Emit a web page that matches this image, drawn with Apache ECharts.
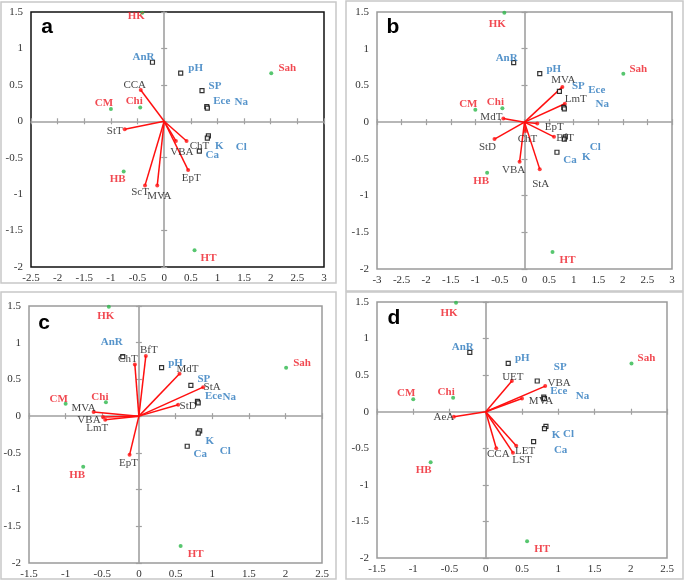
<!DOCTYPE html>
<html>
<head>
<meta charset="utf-8">
<script src="https://cdn.jsdelivr.net/npm/echarts@6/dist/echarts.min.js"></script>
<style>html,body{margin:0;padding:0;background:#fff;}#c{width:685px;height:581px;}</style>
</head>
<body>
<div id="c"></div>
<script>
// ---- data ----
const sites = ['HK','CM','Chi','HB','HT','Sah'];
const siteX = [-0.41,-1.0,-0.45,-0.76,0.57,2.01];
const siteY = [1.49,0.17,0.19,-0.69,-1.77,0.66];

const soils = ['AnR','pH','SP','Ece','Na','K','Cl','Ca'];
const soilX = [-0.22,0.31,0.71,0.80,0.81,0.83,0.81,0.66];
const soilY = [0.81,0.66,0.42,0.20,0.18,-0.20,-0.23,-0.41];

const vecA = ['CCA','StT','VBA','ChT','EpT','MVA','ScT'];
const vecAX = [-0.44,-0.74,0.22,0.42,0.45,-0.13,-0.36];
const vecAY = [0.43,-0.11,-0.27,-0.27,-0.67,-0.88,-0.88];

const vecB = ['MVA','LmT','MdT','EpT','BfT','ChT','StD','VBA','StA'];
const vecBX = [0.77,0.82,-0.43,0.26,0.60,0.02,-0.61,-0.10,0.31];
const vecBY = [0.48,0.25,0.05,-0.02,-0.20,-0.12,-0.23,-0.54,-0.64];

const vecC = ['ChT','BfT','MdT','StA','StD','MVA','VBA','LmT','EpT'];
const vecCX = [-0.055,0.095,0.555,0.877,0.536,-0.618,-0.49,-0.46,-0.127];
const vecCY = [0.705,0.82,0.577,0.395,0.155,0.055,-0.01,-0.05,-0.527];

const vecD = ['UET','VBA','MVA','AeA','CCA','LET','LST'];
const vecDX = [0.36,0.82,0.50,-0.44,0.145,0.42,0.375];
const vecDY = [0.42,0.35,0.18,-0.07,-0.50,-0.465,-0.56];

const xRanges = [[-2.5,3],[-3,3],[-1.5,2.5],[-1.5,2.5]];
const yRange = [-2,1.5];
const panelLetters = ['a','b','c','d'];

// ---- layout (label offsets in px) ----
const siteOff = [
  [[-6,3],[-7,-6],[-6,-6],[-6,8],[14,8],[16,-5]],
  [[-7,11],[-7,-6],[-7,-6],[-6,8],[15,8],[15,-5]],
  [[-3,9],[-7,-5],[-6,-5],[-6,8],[15,8],[16,-5]],
  [[-7,10],[-7,-6],[-7,-6],[-7,8],[15,8],[15,-5]]
];
const soilOff = [
  [[-9,-5],[15,-5],[13,-5],[15,-6],[34,-6],[11,10],[34,9],[13,4]],
  [[-7,-5],[14,-5],[19,-5],[33,-17],[38,-5],[21,20],[31,8],[13,8]],
  [[-11,-15],[14,-5],[13,-6],[16,-5],[31,-6],[10,10],[27,18],[13,8]],
  [[-7,-5],[14,-5],[23,-14],[15,-6],[38,-2],[10,9],[24,6],[27,8]]
];
const vecOff = [
  [[-6,-5],[-10,2],[6,11],[13,5],[3,8],[2,11],[-5,7]],
  [[1,-7],[11,-5],[-12,-1],[17,3],[11,1],[2,8],[-7,8],[-6,8],[1,15]],
  [[-7,-5],[3,-6],[8,-5],[9,0],[10,1],[-10,-4],[-14,3],[-8,8],[-1,8]],
  [[1,-4],[14,-3],[19,3],[-10,0],[2,6],[9,5],[9,7]]
];
const grids = [
  {left:31, top:12, width:293, height:255, borderColor:'#111'},
  {left:377, top:12, width:295, height:257, borderColor:'#9a9a9a'},
  {left:29, top:306, width:293, height:257, borderColor:'#9a9a9a'},
  {left:377, top:302, width:290, height:256, borderColor:'#9a9a9a'}
];
const frames = [[1,2,335,281],[346,1,337,290],[1,292,335,287],[346,292,337,287]];
const letterPos = [[47,27],[393,27],[44,323],[394,318]];

const vecs = [[vecA,vecAX,vecAY],[vecB,vecBX,vecBY],[vecC,vecCX,vecCY],[vecD,vecDX,vecDY]];

const SERIF = '"Liberation Serif","DejaVu Serif",serif';
const RED = '#ee1c25', BLUE = '#2b78bd', GREEN = '#2db84b', AXIS = '#a0a0a0';

const xAxes = [], yAxes = [], series = [], graphics = [];

grids.forEach((g, i) => {
  const [xmin, xmax] = xRanges[i];
  const base = {gridIndex:i, type:'value', interval:0.5, splitLine:{show:false}};
  // label axes
  xAxes.push(Object.assign({}, base, {min:xmin, max:xmax, position:'bottom',
    axisLine:{show:false, onZero:false}, axisTick:{show:false},
    axisLabel:{fontFamily:SERIF, fontSize:11, color:'#333', margin:6}}));
  yAxes.push(Object.assign({}, base, {min:yRange[0], max:yRange[1], position:'left',
    axisLine:{show:false, onZero:false}, axisTick:{show:false},
    axisLabel:{fontFamily:SERIF, fontSize:11, color:'#333', margin:8}}));
  // zero axes with outer ticks and inner ticks
  [false, true].forEach(inside => {
    xAxes.push(Object.assign({}, base, {min:xmin, max:xmax, position:'bottom',
      axisLine:{show:!inside, onZero:true, lineStyle:{color:AXIS, width:1.6}},
      axisTick:{show:true, inside:inside, length:3, lineStyle:{color:AXIS, width:1.2}},
      axisLabel:{show:false}}));
    yAxes.push(Object.assign({}, base, {min:yRange[0], max:yRange[1], position:'left',
      axisLine:{show:!inside, onZero:true, lineStyle:{color:AXIS, width:1.6}},
      axisTick:{show:true, inside:inside, length:3, lineStyle:{color:AXIS, width:1.2}},
      axisLabel:{show:false}}));
  });
  const xi = 3*i, yi = 3*i;
  const [vn, vx, vy] = vecs[i];
  series.push({
    type:'lines', coordinateSystem:'cartesian2d', xAxisIndex:xi, yAxisIndex:yi,
    polyline:false, silent:true, z:3,
    lineStyle:{color:'#ff1010', width:1.5, opacity:1},
    data: vn.map((n,k) => ({coords:[[0,0],[vx[k],vy[k]]]}))
  });
  series.push({
    type:'scatter', xAxisIndex:xi, yAxisIndex:yi, symbol:'circle', symbolSize:4, z:4,
    itemStyle:{color:'#ff1010'},
    label:{show:true, position:'inside', formatter:p=>p.name, fontFamily:SERIF, fontSize:11, color:'#111'},
    data: vn.map((n,k) => ({name:n, value:[vx[k],vy[k]], label:{offset:vecOff[i][k]}}))
  });
  series.push({
    type:'scatter', xAxisIndex:xi, yAxisIndex:yi, symbol:'rect', symbolSize:4, z:4,
    itemStyle:{color:'#fff', borderColor:'#000', borderWidth:1.2},
    label:{show:true, position:'inside', formatter:p=>p.name, fontFamily:SERIF, fontSize:11, fontWeight:'bold', color:BLUE},
    data: soils.map((n,k) => ({name:n, value:[soilX[k],soilY[k]], label:{offset:soilOff[i][k]}}))
  });
  series.push({
    type:'scatter', xAxisIndex:xi, yAxisIndex:yi, symbol:'circle', symbolSize:4, z:4,
    itemStyle:{color:GREEN},
    label:{show:true, position:'inside', formatter:p=>p.name, fontFamily:SERIF, fontSize:11, fontWeight:'bold', color:RED},
    data: sites.map((n,k) => ({name:n, value:[siteX[k],siteY[k]], label:{offset:siteOff[i][k]}}))
  });
  const f = frames[i];
  graphics.push({type:'rect', shape:{x:f[0], y:f[1], width:f[2], height:f[3]},
    style:{fill:null, stroke:'#c8c8c8', lineWidth:1.5}, z:-1, silent:true});
  graphics.push({type:'text', x:letterPos[i][0], y:letterPos[i][1],
    style:{text:panelLetters[i], font:'bold 21px "Liberation Sans", Arial, sans-serif', fill:'#000',
      textAlign:'center', textVerticalAlign:'middle'}, z:10});
});

const chart = echarts.init(document.getElementById('c'), null, {renderer:'canvas'});
chart.setOption({
  animation:false,
  backgroundColor:'#fff',
  grid: grids.map(g => ({left:g.left, top:g.top, width:g.width, height:g.height, show:true,
    borderColor:g.borderColor, borderWidth:1.5, backgroundColor:'transparent', containLabel:false})),
  xAxis: xAxes,
  yAxis: yAxes,
  series: series,
  graphic: graphics
});
</script>
</body>
</html>
